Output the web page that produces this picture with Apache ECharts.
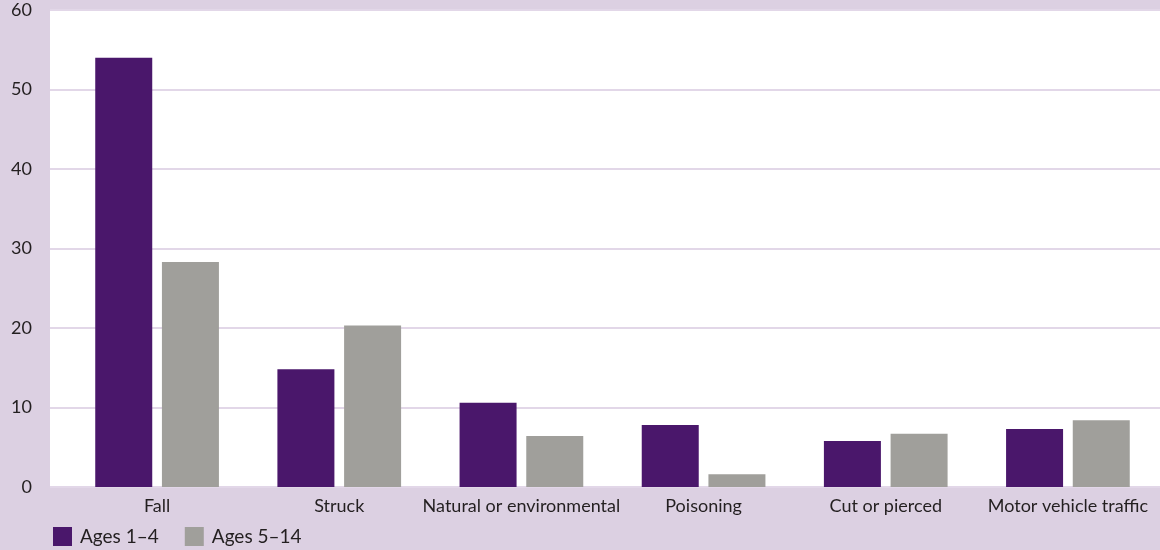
<!DOCTYPE html>
<html>
<head>
<meta charset="utf-8">
<script src="https://cdn.jsdelivr.net/npm/echarts@6/dist/echarts.min.js"></script>
<style>
  html, body { margin: 0; padding: 0; background: #dcd0e2; }
  #chart { width: 1160px; height: 550px; }
</style>
</head>
<body>
<div id="chart"></div>
<script>
const categories = ['Fall', 'Struck', 'Natural or environmental', 'Poisoning', 'Cut or pierced', 'Motor vehicle traffic'];
const ages1to4 = [54.0, 14.8, 10.6, 7.8, 5.8, 7.3];
const ages5to14 = [28.3, 20.3, 6.4, 1.6, 6.7, 8.4];
const yTicks = { min: 0, max: 60, interval: 10 };

const textColor = '#231f20';
const font = 'Lato';

const chart = echarts.init(document.getElementById('chart'));

const option = {
    backgroundColor: '#dcd0e2',
    animation: false,
    textStyle: { fontFamily: font },
    legend: {
        left: 53,
        bottom: 4,
        padding: 0,
        itemWidth: 19,
        itemHeight: 19,
        itemGap: 26,
        icon: 'rect',
        textStyle: { fontFamily: font, fontSize: 19, color: textColor, padding: [0, 0, 0, 3] },
        data: ['Ages 1–4', 'Ages 5–14'],
    },
    grid: [
        // background + y axis
        { left: 50, right: 0, top: 10, bottom: 63, show: true, backgroundColor: '#ffffff', borderWidth: 0 },
        // bars
        { left: 66, right: 1, top: 10, bottom: 63 },
    ],
    xAxis: [
        { gridIndex: 0, type: 'category', data: categories, show: false },
        {
            gridIndex: 1,
            type: 'category',
            data: categories,
            axisLine: { show: false },
            axisTick: { show: false },
            axisLabel: { color: textColor, fontSize: 18, fontFamily: font, margin: 10, interval: 0 },
        },
    ],
    yAxis: [
        {
            gridIndex: 0,
            type: 'value',
            min: yTicks.min,
            max: yTicks.max,
            interval: yTicks.interval,
            axisLine: { show: false },
            axisTick: { show: false },
            axisLabel: { color: textColor, fontSize: 18, fontFamily: font, margin: 18 },
            splitLine: { lineStyle: { color: '#e2d7e8', width: 2 } },
        },
        {
            gridIndex: 1,
            type: 'value',
            min: yTicks.min,
            max: yTicks.max,
            interval: yTicks.interval,
            show: false,
        },
    ],
    series: [
        {
            name: 'Ages 1–4',
            type: 'bar',
            xAxisIndex: 1,
            yAxisIndex: 1,
            data: ages1to4,
            barWidth: 57,
            barGap: '17%',
            itemStyle: { color: '#4a176b' },
        },
        {
            name: 'Ages 5–14',
            type: 'bar',
            xAxisIndex: 1,
            yAxisIndex: 1,
            data: ages5to14,
            barWidth: 57,
            barGap: '17%',
            itemStyle: { color: '#a09f9b' },
        },
    ],
};

chart.setOption(option);
</script>
</body>
</html>
